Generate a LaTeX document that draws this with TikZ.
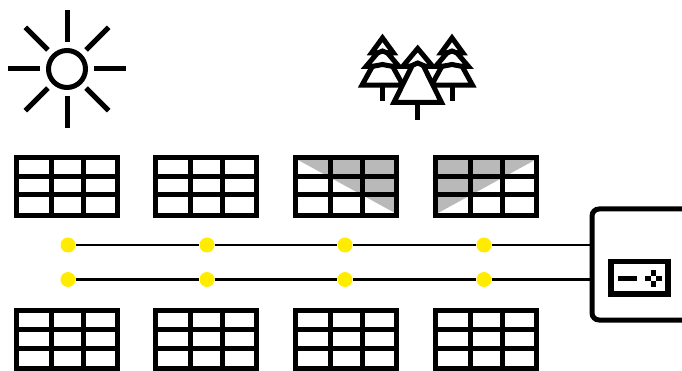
\documentclass[tikz,border=0pt]{standalone}
\usepackage{tikz}
\definecolor{dotyellow}{HTML}{FFEC00}
\definecolor{shadegray}{HTML}{B9B9B9}
\tikzset{
	wire/.style={line width=2.6pt},
	thick line/.style={line width=5pt},
	fir line/.style={line width=5pt,miter limit=10},
	joint/.style={circle,fill=dotyellow,minimum size=15pt,inner sep=0pt},
	panel/.pic={
		\draw[thick line] (0,0) rectangle (101,58);
		\draw[thick line] (34.5,0) -- (34.5,58) (66.5,0) -- (66.5,58) (0,19) -- (101,19) (0,37.5) -- (101,37.5);
	},
	sidefir/.pic={
		\draw[fir line,fill=white] (0,37.9) -- (11,53) -- (5,53) -- (16.5,66.5) -- (10.2,66.5) -- (20.5,85.2) -- (-20.5,85.2) -- (-10.2,66.5) -- (-16.5,66.5) -- (-5,53) -- (-11,53) -- cycle;
		\draw[fir line] (-5,53) -- (0,51) -- (5,53) (-10.5,66.5) -- (0,64.5) -- (10.5,66.5);
		\draw[fir line] (0,85.2) -- (0,101);
	},
	midfir/.pic={
		\draw[fir line,fill=white] (0,48.5) -- (15,66.5) -- (6,66.5) -- (23.8,102.5) -- (-23.8,102.5) -- (-6,66.5) -- (-15,66.5) -- cycle;
		\draw[fir line] (-8,66.5) -- (0,63) -- (8,66.5);
		\draw[fir line] (0,102.5) -- (0,120);
	}
}
\begin{document}
\begin{tikzpicture}[x=1pt,y=-1pt]
	\useasboundingbox (0,0) rectangle (682,371);

	% sun
	\node[circle,draw,line width=5pt,minimum size=37pt,inner sep=0pt] (sun) at (67,69) {};
	\foreach \a in {0,45,...,315}
		\draw[thick line] (sun.center) ++(\a:27) -- ++(\a:32);

	% trees
	\path (382.5,0) pic {sidefir};
	\path (452,0) pic {sidefir};
	\path (417.7,0) pic {midfir};

	% shade
	\fill[shadegray] (298,160) -- (395,160) -- (395,213) -- cycle;
	\fill[shadegray] (438,160) -- (535,160) -- (438,213) -- cycle;

	% panels
	\foreach \x in {16.5,155.5,295.5,435.5} {
		\path (\x,157.5) pic {panel};
		\path (\x,310.5) pic {panel};
	}

	% inverter
	\draw[thick line,rounded corners=7pt] (690,209) -- (592,209) -- (592,320) -- (690,320);
	\coordinate (in1) at (592,245);
	\coordinate (in2) at (592,279.5);
	\draw[line width=5.5pt] (611,261.7) rectangle (668,294);
	\draw[thick line] (618.3,278) -- (637.3,278);
	\draw[line width=5.3pt] (653.3,270) -- (653.3,275.6) (653.3,281) -- (653.3,286.7) (645,278.3) -- (650.6,278.3) (656,278.3) -- (661.7,278.3);

	% strings
	\node[joint] (a1) at (68,245) {};
	\node[joint] (a2) at (207,245) {};
	\node[joint] (a3) at (345,245) {};
	\node[joint] (a4) at (484,245) {};
	\node[joint] (b1) at (68,279.5) {};
	\node[joint] (b2) at (207,279.5) {};
	\node[joint] (b3) at (345,279.5) {};
	\node[joint] (b4) at (484,279.5) {};
	\draw[wire] (a1) -- (a2) (a2) -- (a3) (a3) -- (a4) (a4) -- (in1);
	\draw[wire] (b1) -- (b2) (b2) -- (b3) (b3) -- (b4) (b4) -- (in2);
\end{tikzpicture}
\end{document}
